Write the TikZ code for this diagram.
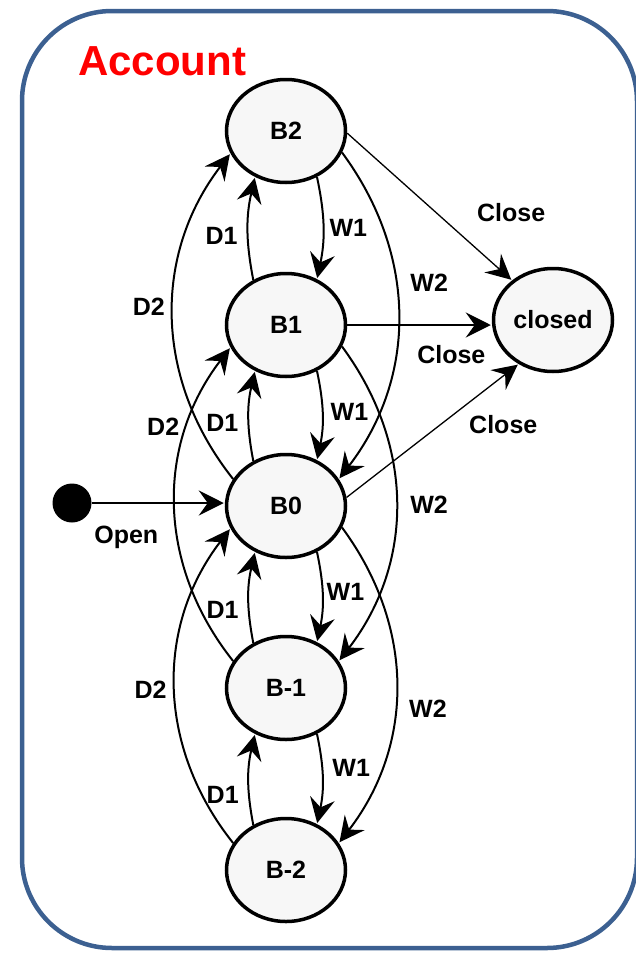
\documentclass[tikz,border=0pt]{standalone}
\usepackage{fontspec}
\setmainfont{Liberation Sans}
\usetikzlibrary{automata, positioning, arrows.meta, shapes.geometric}

\definecolor{framecol}{RGB}{60,96,145}
\definecolor{statefill}{RGB}{247,247,247}
\newcommand{\lab}{\bfseries\fontsize{25}{30}\selectfont}

\begin{document}
\begin{tikzpicture}[
        x=1pt, y=-1pt,
        shorten >=1pt,
        >={Stealth[length=25pt, width=25pt, inset=9pt]},
        node distance=182pt,
        on grid,
        auto,
        font=\lab,
        every state/.style={ellipse, draw, line width=3.5pt, fill=statefill,
            minimum width=119pt, minimum height=103pt, inner sep=0pt},
        trans/.style={line width=2pt},
        closing/.style={line width=1.3pt}
        ]
            \useasboundingbox (0,0) rectangle (635,953);
            \draw[line width=4.5pt, draw=framecol, rounded corners=90pt] (22,11) rectangle (637,948);

            \node[anchor=base west, inner sep=0pt, text=red,
                font=\bfseries\fontsize{42}{50}\selectfont] (title) at (78,75) {Account};

            \node[state] (B0) at (286,506) {B0};
            \node[state, above=181pt of B0] (B1) {B1};
            \node[state, above=194pt of B1] (B2) {B2};
            \node[state, below=of B0] (Bm1) {B-1};
            \node[state, below=of Bm1] (Bm2) {B-2};
            \node[state, right=267pt of B1, yshift=5pt] (closed) {closed};
            \node[circle, fill, minimum size=39pt, inner sep=0pt,
                left=214pt of B0, yshift=3pt] (start) {};

            % deposits go up, withdrawals go down
            \path[->, trans]
                (B1.126) edge[bend left=12] node[left, pos=.42, xshift=-6pt] {D1} (B2.-124)
                (B0.126) edge[bend left=12] node[left, pos=.41, xshift=-6pt] {D1} (B1.-124)
                (Bm1.126) edge[bend left=12] node[left, pos=.35, xshift=-6pt] {D1} (B0.-124)
                (Bm2.126) edge[bend left=12] node[left, pos=.32, xshift=-6pt] {D1} (Bm1.-124)
                (B2.-56) edge[bend left=12] node[right, pos=.5, xshift=2pt] {W1} (B1.56)
                (B1.-56) edge[bend left=12] node[right, pos=.46, xshift=4pt] {W1} (B0.56)
                (B0.-56) edge[bend left=12] node[right, pos=.44] {W1} (Bm1.56)
                (Bm1.-56) edge[bend left=12] node[right, pos=.37, xshift=6pt] {W1} (Bm2.56)
                (B0.153) edge[bend left=38] node[left, pos=.53, xshift=-4pt] {D2} (B2.-158)
                (Bm1.153) edge[bend left=38] node[left, pos=.74, xshift=-4pt] {D2} (B1.-158)
                (Bm2.153) edge[bend left=38] node[left, pos=.49, xshift=-4pt] {D2} (B0.-158)
                (B2.-21) edge[bend left=37] node[right, pos=.4, xshift=10pt] {W2} (B0.27)
                (B1.-21) edge[bend left=37] node[right, pos=.5, xshift=10pt] {W2} (Bm1.27)
                (B0.-21) edge[bend left=37] node[right, pos=.57, xshift=10pt] {W2} (Bm2.27);

            \path[->, closing]
                (B2.-2) edge node[auto=false, pos=.54, xshift=75pt] {Close} (closed.136)
                (B1.east) edge node[auto=false, pos=.72, yshift=-30pt] {Close} (B1.east -| closed.west)
                (B0.8) edge node[auto=false, pos=.545, xshift=63pt] {Close} (closed.232);

            \path[->, trans]
                (start) edge node[auto=false, pos=.26, yshift=-34pt] {Open} (start -| B0.west);
        \end{tikzpicture}
\end{document}
